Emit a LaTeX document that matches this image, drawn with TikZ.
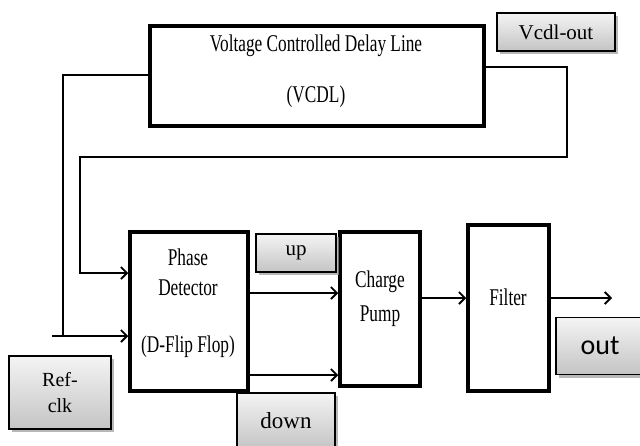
\documentclass[tikz,border=0pt]{standalone}
\usepackage{fontspec}
\setmainfont{Liberation Serif}
\newfontfamily\blockfont[FakeStretch=0.72]{Liberation Serif}
\newfontfamily\outfont{Carlito}
\usetikzlibrary{arrows.meta, positioning, shadows}
\definecolor{taglight}{HTML}{F4F4F4}
\definecolor{tagdark}{HTML}{C4C4C4}
\definecolor{tagshadow}{HTML}{9A9A9A}

\begin{document}
\begin{tikzpicture}[x=1pt, y=-1pt,
      block/.style={rectangle, draw=black, line width=3.5pt, fill=white},
      blocktext/.style={align=center, font=\blockfont\fontsize{24}{26}\selectfont, inner sep=0pt},
      tag/.style={rectangle, draw=black, line width=1.4pt, top color=taglight, bottom color=tagdark, align=center, font=\fontsize{21}{23}\selectfont, drop shadow={shadow xshift=3pt, shadow yshift=-3pt, fill=tagshadow, opacity=0.7}},
      wire/.style={line width=1.8pt, black},
      arrow/.style={wire, -{Straight Barb[length=6pt, width=12pt, line width=1.8pt]}},
    ]
    \clip (0,0) rectangle (640,445);
    \fill[white] (0,0) rectangle (640,445);

    % blocks
    \node[block, minimum width=334pt, minimum height=100pt] (vcdl) at (317,76) {};
    \node[blocktext] (vcdltext) at (316,71) {Voltage Controlled Delay Line\\[25pt](VCDL)};
    \node[block, minimum width=118pt, minimum height=159pt] (pd) at (189,311.5) {};
    \node[blocktext] (pdtext) at (188,303) {Phase\\[4pt]Detector\\[31pt](D-Flip Flop)};
    \node[block, minimum width=80pt, minimum height=154pt] (cp) at (380,309) {};
    \node[blocktext] (cptext) at (380,299) {Charge\\[8pt]Pump};
    \node[block, minimum width=81pt, minimum height=166pt] (filter) at (508.5,308) {};
    \node[blocktext] (filtertext) at (508,297) {Filter};

    % labels
    \node[tag, minimum width=118pt, minimum height=38pt] (vcdlout) at (556,32) {Vcdl-out};
    \node[tag, minimum width=80pt, minimum height=38pt] (uptag) at (296,253) {up};
    \node[tag, minimum width=98pt, minimum height=56pt, font=\fontsize{23}{25}\selectfont] (downtag) at (286,421) {down};
    \node[tag, minimum width=102pt, minimum height=73pt, font=\fontsize{20}{26}\selectfont] (reftag) at (60,392.5) {Ref-\\clk};
    \node[tag, minimum width=88pt, minimum height=57pt, font=\outfont\fontsize{28}{30}\selectfont] (outtag) at (600,346) {out};

    % free ends
    \coordinate (refin) at (52,336);
    \coordinate (outend) at (612,298);

    % feedback from VCDL
    \draw[arrow] (vcdl.east |- 0,67) -| (567,157) -| (80,273) -- (pd.west |- 0,273);
    \draw[wire] (vcdl.west |- 0,75) -| (63,336);
    \draw[arrow] (refin) -- (pd.west |- refin);

    % up / down
    \draw[arrow] (pd.east |- 0,293) -- (cp.west |- 0,293);
    \draw[arrow] (pd.east |- 0,375) -- (cp.west |- 0,375);

    \draw[arrow] (cp.east |- outend) -- (filter.west |- outend);
    \draw[arrow] (filter.east |- outend) -- (outend);
  \end{tikzpicture}
\end{document}
